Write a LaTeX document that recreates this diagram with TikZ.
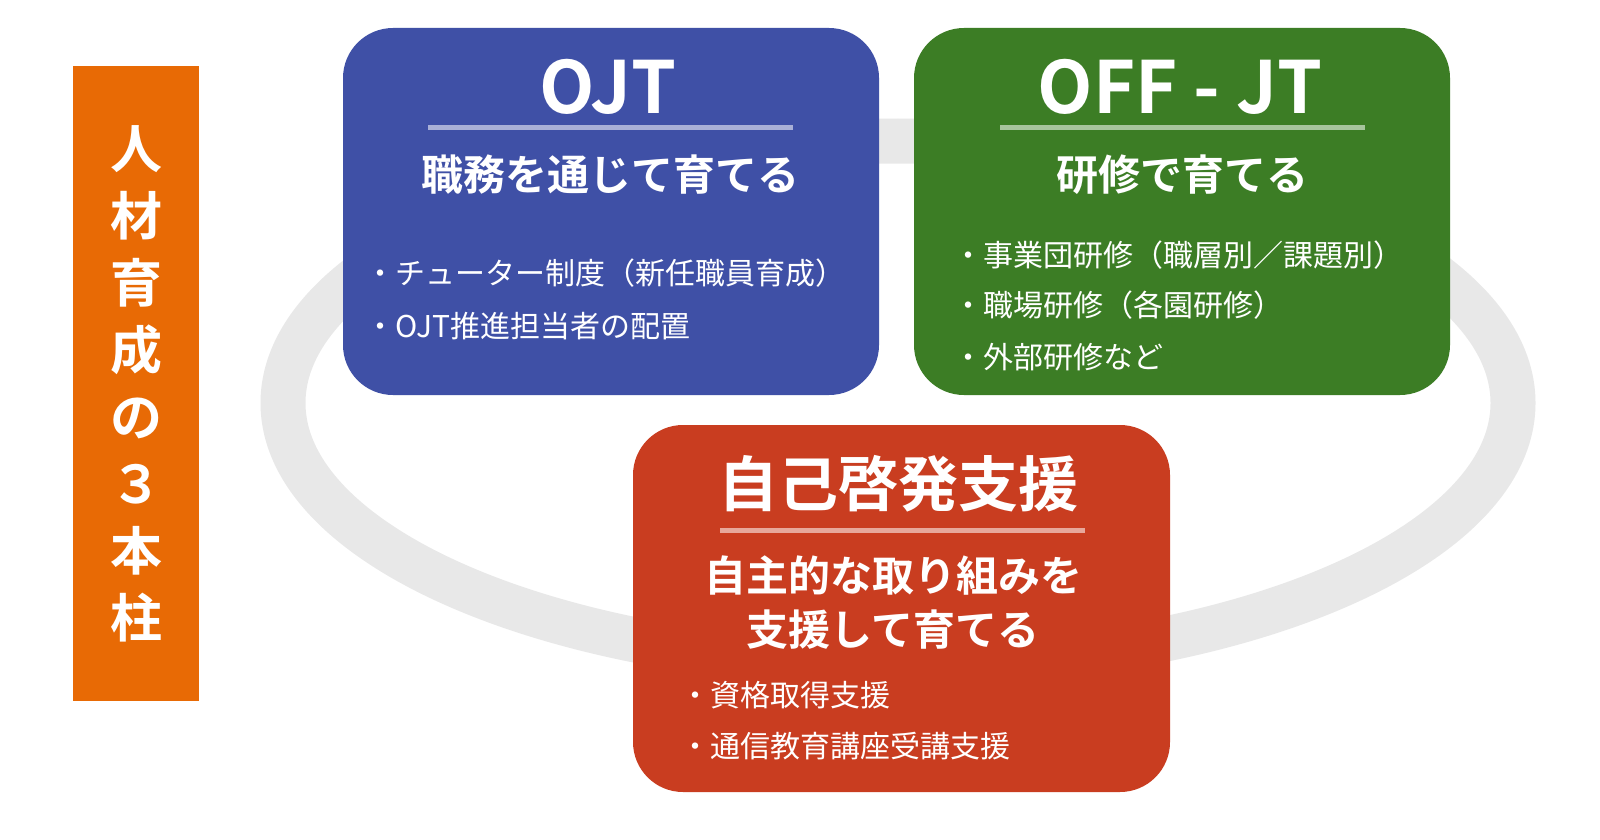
\documentclass[tikz,border=0pt]{standalone}
\usepackage{fontspec}
\usetikzlibrary{shapes.geometric}
\newfontfamily\cjk{Noto Sans CJK JP}
\newfontfamily\cjkb{Noto Sans CJK JP Bold}
\definecolor{org}{HTML}{E86A05}
\definecolor{blu}{HTML}{3F50A6}
\definecolor{grn}{HTML}{3C7D25}
\definecolor{rd}{HTML}{C93D20}
\definecolor{ring}{HTML}{E8E8E8}
\begin{document}
\begin{tikzpicture}[x=1pt,y=-1pt,
  box/.style={rounded corners=50pt,inner sep=0pt},
  ttl/.style={text=white,font=\cjkb\fontsize{#1}{#1}\selectfont,anchor=center},
  sub/.style={text=white,font=\cjkb\fontsize{42}{54}\selectfont,align=center},
  bul/.style={text=white,font=\cjk\fontsize{30}{30}\selectfont,anchor=west}]
\useasboundingbox (0,0) rectangle (1600,840);
\fill[white] (0,0) rectangle (1600,840);
\node[draw=ring,line width=45pt,ellipse,minimum width=1230pt,minimum height=524pt] (ring) at (898,403) {};
% left bar
\fill[org] (73,66) rectangle (199,701);
\node[text=white,font=\cjkb\fontsize{52}{67}\selectfont,align=center] (pillar) at (136,384) {人\\材\\育\\成\\の\\３\\本\\柱};
% OJT
\fill[blu,box] (343,28) rectangle (879,395);
\node[ttl=72] (t1) at (608,87) {OJT};
\draw[line width=5pt,color=white!55!blu] (428,128) -- (793,128);
\node[sub] (s1) at (610,175) {職務を通じて育てる};
\node[bul] (b11) at (362,273) {・チューター制度（新任職員育成）};
\node[bul] (b12) at (362,326) {・OJT推進担当者の配置};
% OFF-JT
\fill[grn,box] (914,28) rectangle (1450,395);
\node[ttl=72] (t2) at (1180,87) {OFF - JT};
\draw[line width=5pt,color=white!55!grn] (1000,128) -- (1365,128);
\node[sub] (s2) at (1182,175) {研修で育てる};
\node[bul] (b21) at (950,255) {・事業団研修（職層別／課題別）};
\node[bul] (b22) at (950,305) {・職場研修（各園研修）};
\node[bul] (b23) at (950,357) {・外部研修など};
% self
\fill[rd,box] (633,425) rectangle (1170,792);
\node[ttl=60] (t3) at (898,484) {自己啓発支援};
\draw[line width=5pt,color=white!55!rd] (720,530) -- (1085,530);
\node[sub] (s3) at (893,603) {自主的な取り組みを\\支援して育てる};
\node[bul] (b31) at (677,695) {・資格取得支援};
\node[bul] (b32) at (677,746) {・通信教育講座受講支援};
\end{tikzpicture}
\end{document}
